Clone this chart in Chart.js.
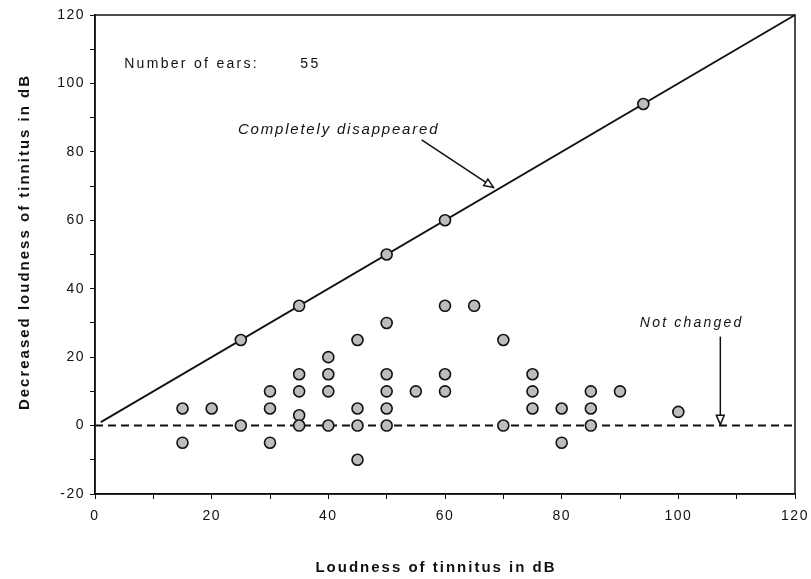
<!DOCTYPE html>
<html>
<head>
<meta charset="utf-8">
<script src="https://cdn.jsdelivr.net/npm/chart.js@4/dist/chart.umd.min.js"></script>
<style>
  html, body { margin: 0; padding: 0; background: #fff; }
  #wrap { width: 811px; height: 579px; }
</style>
</head>
<body>
<div id="wrap"><canvas id="chart" width="811" height="579"></canvas></div>
<script>
// loudness of tinnitus (x) vs decreased loudness (y), one point per ear
const earX = [25, 35, 50, 60, 94,
  15, 15, 20, 25,
  30, 30, 30,
  35, 35, 35, 35,
  40, 40, 40, 40,
  45, 45, 45, 45,
  50, 50, 50, 50, 50,
  55, 60, 60, 60, 65,
  70, 70, 75, 75, 75,
  80, 80, 85, 85, 85, 90, 100];
const earY = [25, 35, 50, 60, 94,
  5, -5, 5, 0,
  10, 5, -5,
  15, 10, 3, 0,
  20, 15, 10, 0,
  25, 5, 0, -10,
  30, 15, 10, 5, 0,
  10, 35, 15, 10, 35,
  25, 0, 15, 10, 5,
  5, -5, 10, 5, 0, 10, 4];

// reference lines
const diagX = [1, 120];
const diagY = [1, 120];
const zeroX = [0, 120];
const zeroY = [0, 0];

const xTicks = [0, 20, 40, 60, 80, 100, 120];
const yTicks = [-20, 0, 20, 40, 60, 80, 100, 120];

const pts = (xs, ys) => xs.map((x, i) => ({x: x, y: ys[i]}));

const FONT = "'Liberation Sans', Arial, sans-serif";

function arrowHead(ctx, x1, y1, x2, y2, size) {
  const a = Math.atan2(y2 - y1, x2 - x1);
  ctx.beginPath();
  ctx.moveTo(x2 - size * Math.cos(a - 0.4), y2 - size * Math.sin(a - 0.4));
  ctx.lineTo(x2, y2);
  ctx.lineTo(x2 - size * Math.cos(a + 0.4), y2 - size * Math.sin(a + 0.4));
  ctx.closePath();
  ctx.fillStyle = "#fff";
  ctx.fill();
  ctx.stroke();
}

const spacing = {
  id: "spacing",
  beforeDraw(chart) { chart.ctx.letterSpacing = "1.5px"; }
};

const extras = {
  id: "extras",
  afterDraw(chart) {
    const {ctx, chartArea: a, scales: {x, y}} = chart;
    ctx.save();
    ctx.strokeStyle = "#111";
    ctx.lineWidth = 1.5;
    ctx.strokeRect(a.left, a.top, a.right - a.left, a.bottom - a.top);

    ctx.fillStyle = "#111";
    ctx.textBaseline = "middle";
    ctx.textAlign = "left";
    ctx.letterSpacing = "2.3px";
    ctx.font = "14px " + FONT;
    ctx.fillText("Number of ears:", x.getPixelForValue(5), y.getPixelForValue(105.5));
    ctx.fillText("55", x.getPixelForValue(35.2), y.getPixelForValue(105.5));

    ctx.letterSpacing = "1.8px";
    ctx.font = "italic 15px " + FONT;
    ctx.fillText("Completely disappeared", x.getPixelForValue(24.5), y.getPixelForValue(86.5));
    ctx.letterSpacing = "2.2px";
    ctx.font = "italic 14px " + FONT;
    ctx.fillText("Not changed", x.getPixelForValue(93.4), y.getPixelForValue(30));

    // axis titles
    ctx.letterSpacing = "2px";
    ctx.font = "bold 15px " + FONT;
    ctx.textAlign = "center";
    ctx.fillText("Loudness of tinnitus in dB", 436, 568);
    ctx.save();
    ctx.translate(25, 242);
    ctx.rotate(-Math.PI / 2);
    ctx.fillText("Decreased loudness of tinnitus in dB", 0, 0);
    ctx.restore();

    ctx.lineWidth = 1.5;
    let x1 = x.getPixelForValue(56), y1 = y.getPixelForValue(83.5);
    let x2 = x.getPixelForValue(68.3), y2 = y.getPixelForValue(69.6);
    ctx.beginPath(); ctx.moveTo(x1, y1); ctx.lineTo(x2, y2); ctx.stroke();
    arrowHead(ctx, x1, y1, x2, y2, 10);

    x1 = x.getPixelForValue(107.2); y1 = y.getPixelForValue(26);
    x2 = x1; y2 = y.getPixelForValue(0.3);
    ctx.beginPath(); ctx.moveTo(x1, y1); ctx.lineTo(x2, y2); ctx.stroke();
    arrowHead(ctx, x1, y1, x2, y2, 10);
    ctx.restore();
  }
};

new Chart(document.getElementById("chart"), {
  type: "scatter",
  data: {
    datasets: [
      {
        label: "Ears",
        data: pts(earX, earY),
        pointRadius: 5.5,
        pointBackgroundColor: "#bdbdbd",
        pointBorderColor: "#111",
        pointBorderWidth: 1.6,
        order: 1
      },
      {
        label: "Completely disappeared",
        type: "line",
        data: pts(diagX, diagY),
        borderColor: "#111",
        borderWidth: 1.8,
        pointRadius: 0,
        order: 2
      },
      {
        label: "Not changed",
        type: "line",
        data: pts(zeroX, zeroY),
        borderColor: "#111",
        borderWidth: 2,
        borderDash: [8, 5],
        pointRadius: 0,
        order: 2
      }
    ]
  },
  options: {
    responsive: false,
    animation: false,
    layout: { padding: { top: 15, right: 16, left: 0, bottom: 0 } },
    plugins: { legend: { display: false }, tooltip: { enabled: false } },
    scales: {
      x: {
        type: "linear",
        min: 0, max: 120,
        afterFit: s => { s.height = 85; s.paddingLeft = 0; s.paddingRight = 0; },
        border: { display: true, color: "#111", width: 1.5 },
        grid: { drawOnChartArea: false, tickLength: 5, color: "#111" },
        ticks: {
          stepSize: 10,
          autoSkip: false,
          maxRotation: 0,
          padding: 9,
          color: "#111",
          font: { family: FONT, size: 14 },
          callback: v => xTicks.includes(v) ? String(v) : ""
        }
      },
      y: {
        type: "linear",
        min: -20, max: 120,
        afterFit: s => { s.width = 95; s.paddingTop = 0; s.paddingBottom = 0; },
        border: { display: true, color: "#111", width: 1.5 },
        grid: { drawOnChartArea: false, tickLength: 5, color: "#111" },
        ticks: {
          stepSize: 10,
          autoSkip: false,
          padding: 5,
          color: "#111",
          font: { family: FONT, size: 14 },
          callback: v => yTicks.includes(v) ? String(v) : ""
        }
      }
    }
  },
  plugins: [spacing, extras]
});
</script>
</body>
</html>
